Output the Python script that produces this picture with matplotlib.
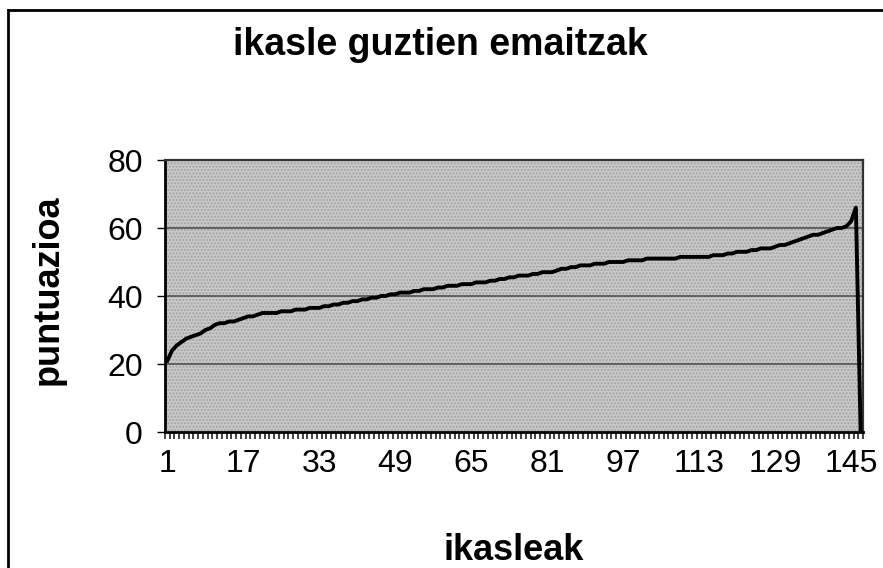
import numpy as np
import matplotlib
matplotlib.use("Agg")
import matplotlib.pyplot as plt
from matplotlib.patches import Rectangle
from matplotlib.lines import Line2D

plt.rcParams['font.family'] = ['Liberation Sans', 'DejaVu Sans']

## datuak : ikasle bakoitzaren puntuazioa (ordenatuta)
puntuazioa = [
    21, 24, 25.5, 26.5, 27.5, 28, 28.5, 29, 30, 30.5,
    31.5, 32, 32, 32.5, 32.5, 33, 33.5, 34, 34, 34.5,
    35, 35, 35, 35, 35.5, 35.5, 35.5, 36, 36, 36,
    36.5, 36.5, 36.5, 37, 37, 37.5, 37.5, 38, 38, 38.5,
    38.5, 39, 39, 39.5, 39.5, 40, 40, 40.5, 40.5, 41,
    41, 41, 41.5, 41.5, 42, 42, 42, 42.5, 42.5, 43,
    43, 43, 43.5, 43.5, 43.5, 44, 44, 44, 44.5, 44.5,
    45, 45, 45.5, 45.5, 46, 46, 46, 46.5, 46.5, 47,
    47, 47, 47.5, 48, 48, 48.5, 48.5, 49, 49, 49,
    49.5, 49.5, 49.5, 50, 50, 50, 50, 50.5, 50.5, 50.5,
    50.5, 51, 51, 51, 51, 51, 51, 51, 51.5, 51.5,
    51.5, 51.5, 51.5, 51.5, 51.5, 52, 52, 52, 52.5, 52.5,
    53, 53, 53, 53.5, 53.5, 54, 54, 54, 54.5, 55,
    55, 55.5, 56, 56.5, 57, 57.5, 58, 58, 58.5, 59,
    59.5, 60, 60, 60.5, 62, 66, 0,
]
ikasleak = np.arange(1, len(puntuazioa) + 1)
x_etiketak = [1, 17, 33, 49, 65, 81, 97, 113, 129, 145]
y_etiketak = [0, 20, 40, 60, 80]

fig = plt.figure(figsize=(8.83, 5.68), dpi=100)
ax = fig.add_axes([165/883, 1-432/568, (863-165)/883, (432-160)/568])

## atzealde grisa + puntuak
ax.set_facecolor('#c9c9c9')
ax.add_patch(Rectangle((0, 0), 1, 1, transform=ax.transAxes, facecolor='none',
                       edgecolor='#a0a0a0', hatch='.....', lw=0, zorder=0))
for g in y_etiketak[1:-1]:
    ax.axhline(g, color='#505050', lw=1.2, zorder=1)

ax.plot(ikasleak, puntuazioa, color='black', lw=2.8, zorder=3)

ax.set_xlim(0.5, len(puntuazioa) + 0.5)
ax.set_ylim(0, 80)
ax.set_yticks(y_etiketak)
ax.set_xticks(x_etiketak)
ax.set_xticks(np.arange(0.5, len(puntuazioa) + 1), minor=True)
ax.tick_params(axis='x', which='major', length=0, labelsize=23, pad=12)
ax.tick_params(axis='x', which='minor', length=5, width=1.3, direction='out', color='#333333')
ax.tick_params(axis='y', which='major', length=6, width=1, labelsize=23, pad=10)

for s in ['left', 'bottom']:
    ax.spines[s].set_linewidth(2)
    ax.spines[s].set_color('black')
for s in ['top', 'right']:
    ax.spines[s].set_linewidth(1.6)
    ax.spines[s].set_color('#333333')

fig.text(440/883, 1-45/568, 'ikasle guztien emaitzak', ha='center', va='center',
         fontsize=27, fontweight='bold')
fig.text(48/883, 1-290/568, 'puntuazioa', ha='center', va='center', rotation=90,
         fontsize=26, fontweight='bold')
fig.text(514/883, 1-551/568, 'ikasleak', ha='center', va='center',
         fontsize=26, fontweight='bold')

## markoa
fig.add_artist(Line2D([8/883, 8/883], [0, 1-10/568], transform=fig.transFigure, color='black', lw=2))
fig.add_artist(Line2D([8/883, 1], [1-10/568, 1-10/568], transform=fig.transFigure, color='black', lw=2))

fig.savefig('out.png', dpi=100)
